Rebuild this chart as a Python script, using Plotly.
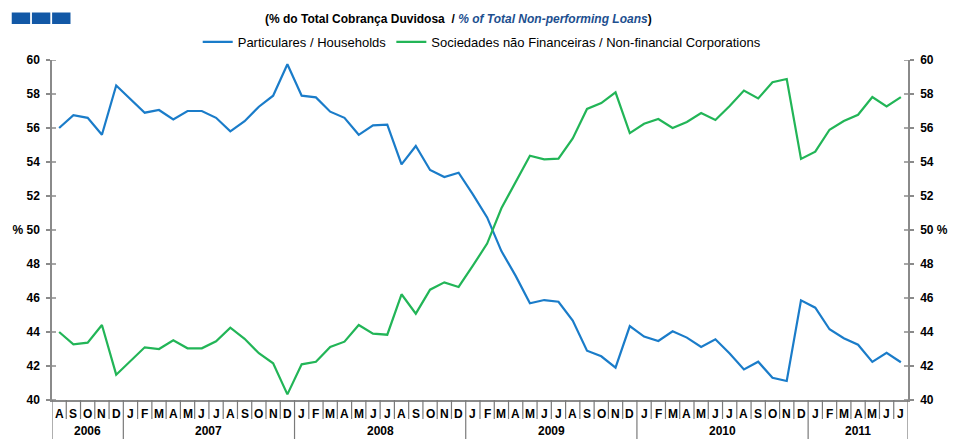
import plotly.graph_objects as go

months = ["A","S","O","N","D",
          "J","F","M","A","M","J","J","A","S","O","N","D",
          "J","F","M","A","M","J","J","A","S","O","N","D",
          "J","F","M","A","M","J","J","A","S","O","N","D",
          "J","F","M","A","M","J","J","A","S","O","N","D",
          "J","F","M","A","M","J","J"]
years = ["2006","2007","2008","2009","2010","2011"]
year_counts = [5, 12, 12, 12, 12, 7]

households = [56.0, 56.76, 56.6, 55.6, 58.5,
              57.7, 56.9, 57.06, 56.5, 57.0, 57.0, 56.6, 55.8, 56.4, 57.25, 57.9, 59.75,
              57.9, 57.8, 56.96, 56.6, 55.6, 56.16, 56.2, 53.86, 54.94, 53.53, 53.12, 53.37,
              52.1, 50.74, 48.76, 47.3, 45.69, 45.88, 45.78, 44.67, 42.9, 42.57, 41.9, 44.35,
              43.73, 43.47, 44.04, 43.67, 43.12, 43.57, 42.73, 41.8, 42.25, 41.31, 41.12,
              45.86, 45.43, 44.16, 43.63, 43.25, 42.24, 42.78, 42.22]
corporations = [44.0, 43.27, 43.37, 44.41, 41.49,
                42.29, 43.1, 43.0, 43.51, 43.04, 43.04, 43.45, 44.25, 43.6, 42.75, 42.16, 40.33,
                42.1, 42.25, 43.12, 43.43, 44.41, 43.9, 43.84, 46.22, 45.08, 46.49, 46.92, 46.65,
                47.9, 49.2, 51.28, 52.8, 54.37, 54.16, 54.2, 55.39, 57.12, 57.47, 58.1, 55.7,
                56.25, 56.53, 56.0, 56.35, 56.88, 56.47, 57.29, 58.2, 57.74, 58.69, 58.88,
                54.18, 54.61, 55.9, 56.41, 56.78, 57.82, 57.27, 57.82]
y_ticks = [40, 42, 44, 46, 48, 50, 52, 54, 56, 58, 60]

FONT = "Liberation Sans, Arial"
BLUE = "#1a7cc9"
GREEN = "#22b557"
AXIS = "#8a8a8a"
SEP = "#7a7a7a"

x = list(range(len(months)))

fig = go.Figure()
fig.add_trace(go.Scatter(x=x, y=households, mode="lines", name="Particulares / Households",
                         line=dict(color=BLUE, width=2.2)))
fig.add_trace(go.Scatter(x=x, y=corporations, mode="lines", name="Sociedades não Financeiras / Non-financial Corporations",
                         line=dict(color=GREEN, width=2.2), yaxis="y2"))

tick_text = ["% 50" if v == 50 else str(v) for v in y_ticks]
tick_text_r = ["50 %" if v == 50 else str(v) for v in y_ticks]

fig.update_layout(
    width=960, height=439,
    margin=dict(l=50, r=49, t=60, b=39),
    paper_bgcolor="white", plot_bgcolor="white",
    font=dict(family=FONT, size=12, color="black"),
    showlegend=True,
    legend=dict(orientation="h", x=0.502, xanchor="center", y=1.053, yanchor="middle",
                font=dict(family=FONT, size=13, color="black"), bgcolor="rgba(0,0,0,0)",
                itemwidth=30, tracegroupgap=0),
    xaxis=dict(range=[-0.5, len(months) - 0.5], showgrid=False, zeroline=False,
               showline=True, linecolor=AXIS, linewidth=1.5, showticklabels=False, ticks=""),
    yaxis=dict(range=[40, 60], tickvals=y_ticks, ticktext=tick_text, showgrid=False, zeroline=False,
               showline=True, linecolor=AXIS, linewidth=1.5, ticks="outside", ticklen=4,
               tickcolor=AXIS, tickwidth=1.5, ticklabelstandoff=4,
               tickfont=dict(family=FONT, size=12, color="black", weight="bold")),
    yaxis2=dict(range=[40, 60], overlaying="y", side="right", tickvals=y_ticks, ticktext=tick_text_r,
                showgrid=False, zeroline=False, showline=True, linecolor=AXIS, linewidth=1.5,
                ticks="outside", ticklen=4, tickcolor=AXIS, tickwidth=1.5, ticklabelstandoff=4,
                tickfont=dict(family=FONT, size=12, color="black", weight="bold")),
)

shapes = []
# inner halves of the crossing ticks
for v in y_ticks:
    shapes.append(dict(type="line", xref="paper", yref="y", xsizemode="pixel", xanchor=0,
                       x0=0, x1=4, y0=v, y1=v, line=dict(color=AXIS, width=1.5)))
    shapes.append(dict(type="line", xref="paper", yref="y", xsizemode="pixel", xanchor=1,
                       x0=-4, x1=0, y0=v, y1=v, line=dict(color=AXIS, width=1.5)))

# month separators
PLOT_H = 340
PLOT_W = 861
month_sep_depth = -19 / PLOT_H
full_depth = -45 / PLOT_H
year_bounds = []
acc = 0
for c in year_counts:
    year_bounds.append(acc)
    acc += c
year_bounds.append(acc)
for k in range(len(months) + 1):
    depth = full_depth if k in year_bounds else month_sep_depth
    shapes.append(dict(type="line", xref="x", yref="paper", x0=k - 0.5, x1=k - 0.5,
                       y0=0, y1=depth, line=dict(color=SEP, width=1.2)))

# header decoration
for i in range(3):
    x0 = 9.5 + i * 20.3
    shapes.append(dict(type="rect", xref="paper", yref="paper",
                       x0=(x0 - 50) / PLOT_W, x1=(x0 + 18.5 - 50) / PLOT_W,
                       y0=(400 - 24) / PLOT_H, y1=(400 - 12.5) / PLOT_H,
                       fillcolor="#1258a6", line=dict(width=0)))

annotations = []
for i, m in enumerate(months):
    annotations.append(dict(x=i, y=-14 / PLOT_H, xref="x", yref="paper", text=f"<b>{m}</b>",
                            showarrow=False, font=dict(family=FONT, size=12, color="black"),
                            xanchor="center", yanchor="middle"))
acc = 0
for yr, c in zip(years, year_counts):
    annotations.append(dict(x=acc + (c - 1) / 2, y=-31 / PLOT_H, xref="x", yref="paper",
                            text=f"<b>{yr}</b>", showarrow=False,
                            font=dict(family=FONT, size=12, color="black"),
                            xanchor="center", yanchor="middle"))
    acc += c

annotations.append(dict(x=(459 - 50) / PLOT_W, y=(400 - 19) / PLOT_H, xref="paper", yref="paper",
                        text="<b>(% do Total Cobrança Duvidosa  / <i><span style='color:#1d4f8f'>% of Total Non-performing Loans</span></i>)</b>",
                        showarrow=False, font=dict(family=FONT, size=12, color="black"),
                        xanchor="center", yanchor="middle"))

fig.update_layout(shapes=shapes, annotations=annotations)
fig.write_html("out.html", config={"displayModeBar": False},
               post_script="document.body.style.margin='0';document.body.style.overflow='hidden';")
